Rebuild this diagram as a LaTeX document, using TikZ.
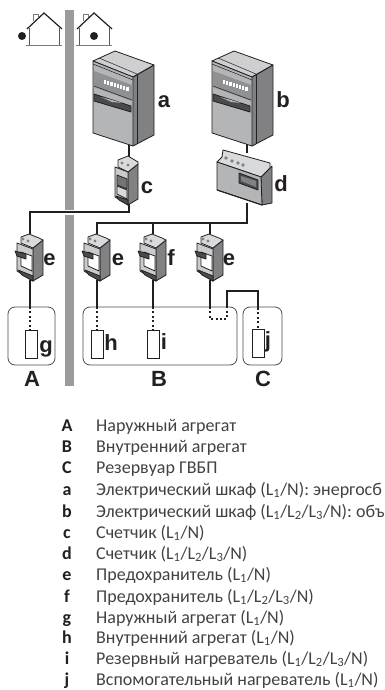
\documentclass[tikz,border=0pt]{standalone}
\usepackage{fontspec}
\setmainfont{Carlito}
\newfontfamily\lblfont{Liberation Sans}[BoldFont={Liberation Sans Bold}]
\definecolor{polegray}{HTML}{9A9B9D}
\definecolor{frontgray}{HTML}{B4B5B7}
\definecolor{sidegray}{HTML}{808183}
\definecolor{darkgray2}{HTML}{4A4B4D}
\definecolor{lightgray2}{HTML}{D9DADB}
\definecolor{ink}{HTML}{231F20}
\tikzset{
  wire/.style={draw=ink,line width=2.2pt},
  dotwire/.style={draw=ink,line width=1.8pt,dash pattern=on 2pt off 2.4pt},
  housel/.style={draw=ink,line width=1.2pt,line join=miter},
  wall/.style={draw=ink!75,line width=0.6pt},
  dev/.style={draw=ink,line width=0.8pt,line join=round},
  unitbox/.style={draw=darkgray2,line width=0.8pt,rounded corners=7pt,minimum width=0pt},
  heater/.style={draw=ink,line width=0.7pt,fill=white},
  biglabel/.style={font=\lblfont\bfseries\fontsize{22}{22}\selectfont,text=ink,anchor=base,inner sep=0pt},
  keylabel/.style={font=\bfseries\fontsize{18}{18}\selectfont,text=ink,anchor=base,inner sep=0pt},
  keytext/.style={font=\fontsize{18}{18}\selectfont,text=ink!85,anchor=base west,inner sep=0pt},
}
\newcommand{\Lone}{L\textsubscript{1}}
\newcommand{\Ltwo}{L\textsubscript{2}}
\newcommand{\Lthree}{L\textsubscript{3}}
% cabinet drawn at the position of cabinet a, shifted by #1 in x
\newcommand{\cabinetat}[1]{%
\begin{scope}[xshift=#1pt]
  \fill[sidegray] (133,77)--(154,65)--(154,135)--(133,146)--cycle;
  \fill[darkgray2!70] (133,77)--(137,75)--(137,144)--(133,146)--cycle;
  \filldraw[dev,fill=lightgray2!70!frontgray] (93,61)--(115,51)--(154,65)--(133,77)--cycle;
  \filldraw[dev,fill=frontgray] (93,61)--(133,77)--(133,146)--(93,133)--cycle;
  \draw[dev,line width=0.5pt] (93,64)--(133,80);
  \draw[dev,line width=0.5pt] (99,58)--(137,74);
  \fill[frontgray!80!black] (94,71)--(132,85)--(132,101)--(94,87)--cycle;
  \foreach \k in {0,...,7}{\fill[white] ({104+\k*3.2},{80+\k*1.05}) rectangle ++(2.1,4);}
  \filldraw[dev,fill=darkgray2] (94,94)--(131,106)--(131,112)--(94,101)--cycle;
  \fill[frontgray] (101,97)--(112,100)--(122,103)--(112,102)--cycle;
  \draw[dev,line width=0.5pt] (94,86)--(132,100);
  \draw[dev] (154,65)--(154,135)--(133,146);
  \draw[dev] (137,75)--(137,144);
  \draw[dev] (133,77)--(154,65);
\end{scope}}
% fuse: origin is the wire entry
\newcommand{\fuseat}[2]{%
\begin{scope}[shift={(#1,#2)}]
  \filldraw[dev,fill=sidegray] (3,15)--(13,7)--(13,42)--(3,48)--cycle;
  \filldraw[dev,fill=lightgray2] (-9,4)--(-1,1)--(9,5)--(13,7)--(3,15)--(-9,10)--cycle;
  \fill[sidegray] (-7,6) circle (1.6) (-2,8) circle (1.6);
  \filldraw[dev,fill=frontgray!70!white] (-13,10)--(3,16)--(3,48)--(-13,38)--cycle;
  \filldraw[dev,fill=darkgray2] (-12,37)--(3,43)--(3,48)--(-8,42)--cycle;
  \filldraw[dev,fill=white] (-9,19)--(2,23)--(2,38)--(-9,33)--cycle;
  \filldraw[dev,fill=darkgray2] (-15,18)--(-4,21)--(-4,26)--(-13,23)--cycle;
\end{scope}}
\begin{document}
\begin{tikzpicture}[x=1pt,y=-1pt]
\useasboundingbox (0,0) rectangle (384,690);
\clip (0,0) rectangle (384,690);
\fill[white] (0,0) rectangle (384,690);

% pole with the gap where the wire crosses
\fill[polegray] (65,10) rectangle (74,210);
\fill[polegray] (65,215) rectangle (74,386);

% houses
\draw[wall,line width=0.9pt,draw=ink!60] (33,21)--(33,14)--(38,14)--(38,17);
\draw[housel] (27,29)--(44,13)--(62,29);
\draw[wall] (29,28)--(29,45.5) (59,28)--(59,45.5);
\draw[wall,draw=ink!60,line width=0.9pt] (26,45.7)--(62,45.7);
\fill[ink] (22,36) circle (4);
\draw[wall,line width=0.9pt,draw=ink!60] (83,21)--(83,14)--(88,14)--(88,17);
\draw[housel] (77,29)--(94,13)--(112,29);
\draw[wall] (79,28)--(79,45.5) (109,28)--(109,45.5);
\draw[wall,draw=ink!60,line width=0.9pt] (76,45.7)--(112,45.7);
\fill[ink] (94,36) circle (4);

% connection points
\coordinate (aout) at (129,143);
\coordinate (cin) at (129,158);
\coordinate (cout) at (129,204);
\coordinate (cbus) at (129,212);
\coordinate (eAbus) at (30,212);
\coordinate (bout) at (247,143);
\coordinate (din) at (247,153);
\coordinate (dout) at (247,203);
\coordinate (dbus) at (247,223);
\coordinate (eBbus) at (97,223);
\coordinate (fbus) at (153,223);
\coordinate (eCbus) at (210,223);
\coordinate (eAin) at (30,234);
\coordinate (eBin) at (97,234);
\coordinate (fin) at (153,234);
\coordinate (eCin) at (210,234);
\coordinate (eAout) at (30,280);
\coordinate (eBout) at (97,280);
\coordinate (fout) at (153,280);
\coordinate (eCout) at (210,280);

% unit outlines and heaters
\node[unitbox,minimum width=47pt,minimum height=58pt,inner sep=0pt] (boxA) at (31.5,336) {};
\node[unitbox,minimum width=154pt,minimum height=58pt,inner sep=0pt] (boxB) at (160,336) {};
\node[unitbox,minimum width=39pt,minimum height=58pt,inner sep=0pt] (boxC) at (262.5,336) {};
\node[heater,minimum width=12pt,minimum height=28pt,inner sep=0pt] (unitg) at (31,344) {};
\node[heater,minimum width=12pt,minimum height=28pt,inner sep=0pt] (unith) at (97.5,344) {};
\node[heater,minimum width=12pt,minimum height=28pt,inner sep=0pt] (uniti) at (153.5,344) {};
\node[heater,minimum width=12pt,minimum height=28pt,inner sep=0pt] (unitj) at (258,343) {};

% wires
\draw[wire] (cin)--(aout);
\draw[wire,line join=miter] (cout)--(cbus)--(eAbus)--(eAin);
\draw[wire] (bout)--(din);
\draw[wire,line join=miter] (dout)--(dbus)--(eBbus)--(eBin);
\draw[wire] (fbus)--(fin);
\draw[wire] (eCbus)--(eCin);
\coordinate (gtop) at (30,307);
\coordinate (htop) at (97,307);
\coordinate (itop) at (153,307);
\coordinate (ktop) at (210,307);
\coordinate (ltop) at (227,307);
\coordinate (jtop) at (258,308);
\coordinate (kl) at (210,319);
\coordinate (kr) at (227,319);
\coordinate (jup) at (227,291);
\coordinate (jupr) at (258,291);
\draw[wire] (eAout)--(gtop);
\draw[wire] (eBout)--(htop);
\draw[wire] (fout)--(itop);
\draw[wire] (eCout)--(ktop);
\draw[wire,line join=miter] (ltop)--(jup)--(jupr)--(jtop);
\draw[dotwire] (gtop)--(gtop|-unitg.north);
\draw[dotwire] (htop)--(htop|-unith.north);
\draw[dotwire] (itop)--(itop|-uniti.north);
\draw[dotwire] (jtop)--(jtop|-unitj.north);
\draw[dotwire] (ktop)--(kl)--(kr)--(ltop);

% cabinets
\cabinetat{0}
\cabinetat{119}

% meter c
\filldraw[dev,fill=sidegray] (128,172)--(138,164)--(138,199)--(128,205)--cycle;
\filldraw[dev,fill=lightgray2] (118,160)--(128,156)--(138,162)--(138,164)--(128,172)--(118,167)--cycle;
\fill[sidegray] (122,163) circle (1.6) (128,165) circle (1.6);
\filldraw[dev,fill=frontgray!70!white] (115,167)--(128,172)--(128,205)--(115,197)--cycle;
\filldraw[dev,fill=darkgray2] (116,196)--(128,200)--(128,205)--(119,200)--cycle;
\filldraw[dev,fill=darkgray2!60!frontgray] (117,175)--(127,179)--(127,189)--(117,185)--cycle;
\filldraw[dev,fill=lightgray2] (117,186)--(127,190)--(127,199)--(117,194)--cycle;

% meter d
\filldraw[dev,fill=sidegray] (261,177)--(272,166)--(272,203)--(262,205)--cycle;
\filldraw[dev,fill=lightgray2] (222,157)--(223,150)--(270,163)--(270,168)--(261,177)--(217,162)--cycle;
\fill[sidegray] (226,158) circle (1.8) (232,161) circle (1.8) (238,163) circle (1.8) (243,165) circle (1.8);
\filldraw[dev,fill=frontgray] (217,162)--(261,177)--(262,205)--(217,190)--cycle;
\filldraw[dev,fill=darkgray2] (239,173)--(258,180)--(258,190)--(239,183)--cycle;
\fill[sidegray] (241,176)--(256,181)--(256,187)--(241,181)--cycle;
\draw[dev,line width=1.1pt] (217,190)--(262,205);

% fuses
\fuseat{30}{233}
\fuseat{97}{233}
\fuseat{153}{233}
\fuseat{210}{233}

% big letters
\node[biglabel] (la) at (164,108) {a};
\node[biglabel] (lb) at (283,108) {b};
\node[biglabel] (lc) at (147,193) {c};
\node[biglabel] (ld) at (281,191) {d};
\node[biglabel] (le1) at (49.5,265) {e};
\node[biglabel] (le2) at (118,265) {e};
\node[biglabel] (lf) at (171,265) {f};
\node[biglabel] (le3) at (229,265) {e};
\node[biglabel] (lg) at (46,352) {g};
\node[biglabel] (lh) at (111,350) {h};
\node[biglabel] (li) at (164,349) {i};
\node[biglabel] (lj) at (268,347) {j};
\node[biglabel] (lA) at (32,386) {A};
\node[biglabel] (lB) at (159,386) {B};
\node[biglabel] (lC) at (263,386) {C};

% key
\node[keylabel] (kA) at (67,431) {A};
\node[keylabel] (kB) at (67,452) {B};
\node[keylabel] (kC) at (67,473) {C};
\node[keylabel] (ka) at (67,495) {a};
\node[keylabel] (kb) at (67,517) {b};
\node[keylabel] (kc) at (67,538) {c};
\node[keylabel] (kd) at (67,559) {d};
\node[keylabel] (ke) at (67,580) {e};
\node[keylabel] (kf) at (67,602) {f};
\node[keylabel] (kg) at (67,623) {g};
\node[keylabel] (kh) at (67,643) {h};
\node[keylabel] (ki) at (67,664) {i};
\node[keylabel] (kj) at (67,685) {j};
\node[keytext] (tA) at (96,431) {Наружный агрегат};
\node[keytext] (tB) at (96,452) {Внутренний агрегат};
\node[keytext] (tC) at (96,473) {Резервуар ГВБП};
\node[keytext] (ta) at (96,495) {Электрический шкаф (\Lone/N): энергосб};
\node[keytext] (tb) at (96,517) {Электрический шкаф (\Lone/\Ltwo/\Lthree/N): объ};
\node[keytext] (tc) at (96,538) {Счетчик (\Lone/N)};
\node[keytext] (td) at (96,559) {Счетчик (\Lone/\Ltwo/\Lthree/N)};
\node[keytext] (te) at (96,580) {Предохранитель (\Lone/N)};
\node[keytext] (tf) at (96,602) {Предохранитель (\Lone/\Ltwo/\Lthree/N)};
\node[keytext] (tg) at (96,623) {Наружный агрегат (\Lone/N)};
\node[keytext] (th) at (96,643) {Внутренний агрегат (\Lone/N)};
\node[keytext] (ti) at (96,664) {Резервный нагреватель (\Lone/\Ltwo/\Lthree/N)};
\node[keytext] (tj) at (96,685) {Вспомогательный нагреватель (\Lone/N)};
\end{tikzpicture}
\end{document}
